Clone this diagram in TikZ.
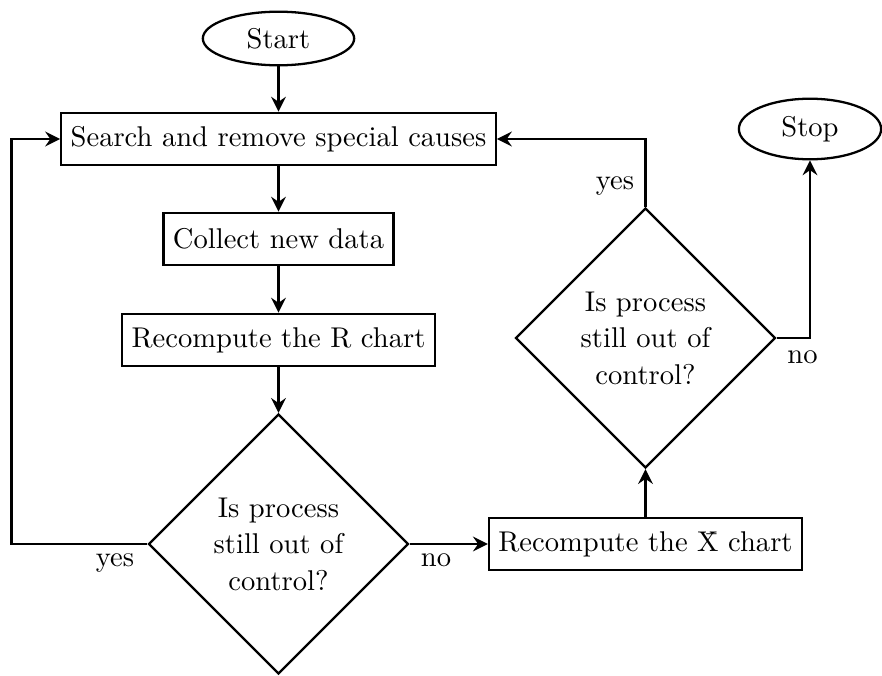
\documentclass[tikz,border=0pt]{standalone}
\usetikzlibrary{shapes.geometric,arrows.meta}
\begin{document}
\begin{tikzpicture}[x=0.35pt,y=-0.35pt,
  box/.style={draw,thick,rectangle,minimum height=18.4pt,inner xsep=3.33pt},
  term/.style={draw,thick,ellipse,inner xsep=7.6pt,inner ysep=3pt},
  decision/.style={draw,thick,diamond,aspect=1,minimum size=91pt,inner sep=0pt,
    align=center,font=\fontsize{10}{12.8}\selectfont},
  flow/.style={thick,-{Stealth[length=5.2pt,width=5.2pt,inset=1.8pt]}},
  lbl/.style={anchor=base,inner sep=0pt}]
\useasboundingbox (0,0) rectangle (882,675);

% process steps
\node[term] (start) at (278.5,38.5) {Start};
\node[box] (search) at (278.5,139) {Search and remove special causes};
\node[box] (collect) at (278.5,239) {Collect new data};
\node[box] (rchart) at (278.5,340) {Recompute the R chart};
\node[decision] (dec1) at (278.5,544) {Is process\\still out of\\control?};
\node[box] (xchart) at (645.5,544) {Recompute the \={X} chart};
\node[decision] (dec2) at (645.5,338) {Is process\\still out of\\control?};
\node[term] (stop) at (810,129) {Stop};

% return line on the left
\coordinate (loopx) at (11.5,0);

% connectors
\draw[flow] (start) -- (search);
\draw[flow] (search) -- (collect);
\draw[flow] (collect) -- (rchart);
\draw[flow] (rchart) -- (dec1);
\draw[flow] (dec1.west) -- (dec1.west -| loopx) |- (search.west);
\draw[flow] (dec1.east) -- (xchart.west);
\draw[flow] (xchart.north) -- (dec2.south);
\draw[flow] (dec2.north) |- (search.east);
\draw[flow] (dec2.east) -| (stop.south);

% branch labels
\node[lbl] (yes1) at (115,566) {yes};
\node[lbl] (no1) at (436,566) {no};
\node[lbl] (yes2) at (615,189) {yes};
\node[lbl] (no2) at (802.5,363) {no};
\end{tikzpicture}
\end{document}
